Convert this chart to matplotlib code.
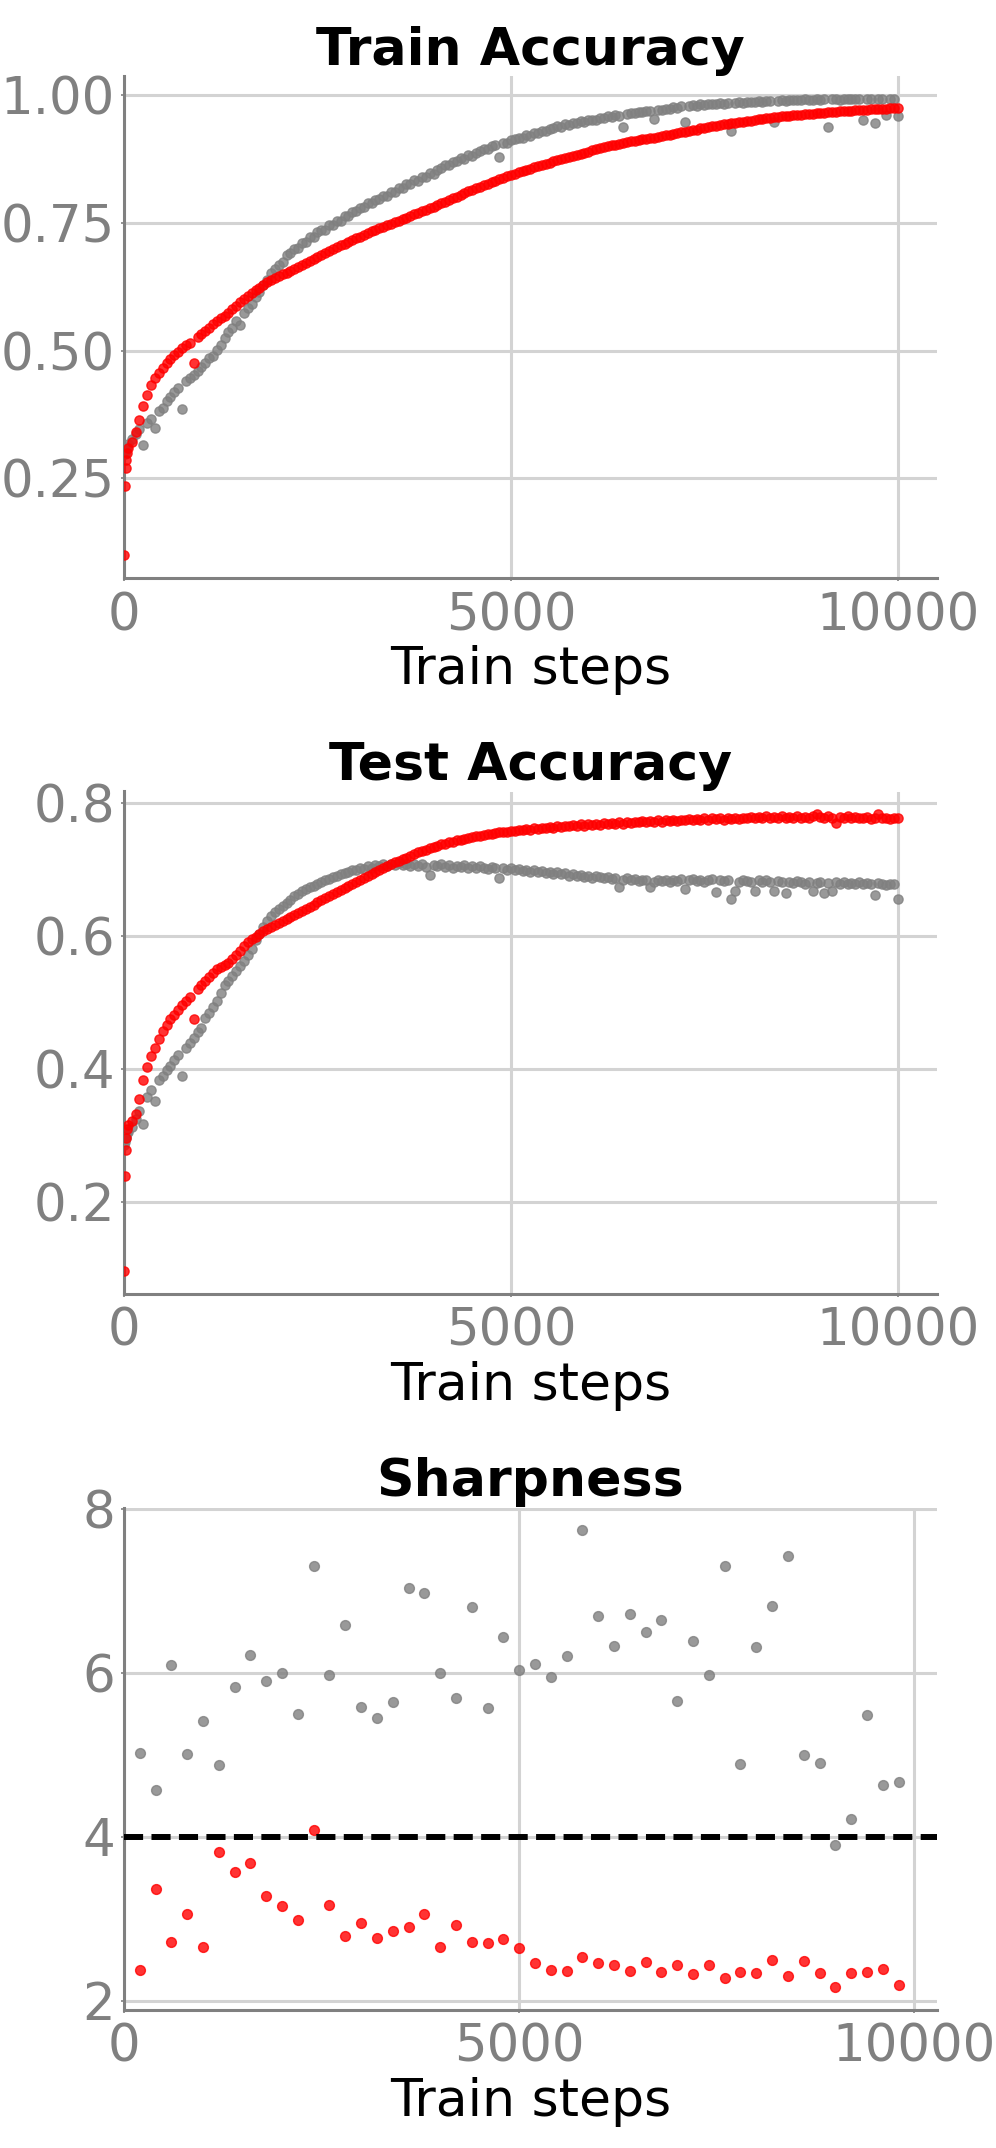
import numpy as np
import matplotlib
matplotlib.use("Agg")
import matplotlib.pyplot as plt

# ---------------- data ----------------
steps = [0, 10, 20, 30, 40] + list(range(50, 10001, 50))

train_acc_red = [
    0.100, 0.235, 0.270, 0.287, 0.300,
    0.310, 0.322, 0.340, 0.365, 0.392, 0.413, 0.432, 0.446, 0.457, 0.466,
    0.476, 0.484, 0.491, 0.498, 0.504, 0.510, 0.515, 0.476, 0.526, 0.532,
    0.538, 0.545, 0.551, 0.558, 0.563, 0.568, 0.574, 0.581, 0.588, 0.595,
    0.601, 0.607, 0.612, 0.618, 0.623, 0.628, 0.633, 0.637, 0.641, 0.645,
    0.649, 0.652, 0.656, 0.660, 0.664, 0.667, 0.671, 0.675, 0.679, 0.683,
    0.686, 0.690, 0.694, 0.698, 0.702, 0.706, 0.709, 0.713, 0.716, 0.719,
    0.722, 0.726, 0.729, 0.733, 0.736, 0.739, 0.742, 0.745, 0.748, 0.751,
    0.754, 0.757, 0.760, 0.763, 0.766, 0.769, 0.772, 0.775, 0.778, 0.781,
    0.784, 0.788, 0.791, 0.795, 0.798, 0.801, 0.804, 0.808, 0.811, 0.814,
    0.817, 0.820, 0.823, 0.826, 0.829, 0.832, 0.835, 0.838, 0.841, 0.844,
    0.846, 0.849, 0.851, 0.853, 0.855, 0.858, 0.860, 0.863, 0.865, 0.867,
    0.870, 0.872, 0.874, 0.876, 0.878, 0.880, 0.883, 0.885, 0.887, 0.889,
    0.891, 0.893, 0.895, 0.897, 0.899, 0.901, 0.902, 0.904, 0.906, 0.907,
    0.909, 0.910, 0.911, 0.913, 0.914, 0.915, 0.916, 0.917, 0.919, 0.921,
    0.922, 0.924, 0.925, 0.927, 0.928, 0.930, 0.931, 0.932, 0.934, 0.935,
    0.936, 0.938, 0.939, 0.940, 0.942, 0.943, 0.944, 0.945, 0.946, 0.947,
    0.948, 0.949, 0.951, 0.952, 0.953, 0.954, 0.955, 0.956, 0.957, 0.958,
    0.958, 0.959, 0.960, 0.961, 0.961, 0.962, 0.963, 0.963, 0.964, 0.965,
    0.965, 0.966, 0.967, 0.967, 0.968, 0.968, 0.969, 0.969, 0.970, 0.970,
    0.971, 0.971, 0.972, 0.972, 0.973, 0.973, 0.973, 0.974, 0.974, 0.974,
]

train_acc_gray = [
    0.300, 0.298, 0.305, 0.310, 0.312,
    0.318, 0.327, 0.337, 0.346, 0.316, 0.358, 0.366, 0.349, 0.381, 0.388,
    0.401, 0.410, 0.419, 0.427, 0.386, 0.440, 0.446, 0.453, 0.460, 0.468,
    0.476, 0.485, 0.490, 0.502, 0.510, 0.524, 0.536, 0.545, 0.557, 0.550,
    0.573, 0.583, 0.590, 0.604, 0.614, 0.628, 0.638, 0.652, 0.660, 0.668,
    0.674, 0.686, 0.690, 0.699, 0.701, 0.711, 0.712, 0.722, 0.722, 0.731,
    0.735, 0.736, 0.745, 0.746, 0.753, 0.754, 0.762, 0.763, 0.771, 0.772,
    0.779, 0.780, 0.788, 0.789, 0.795, 0.796, 0.803, 0.802, 0.810, 0.809,
    0.817, 0.818, 0.825, 0.826, 0.833, 0.832, 0.840, 0.839, 0.847, 0.846,
    0.853, 0.857, 0.862, 0.863, 0.869, 0.870, 0.876, 0.875, 0.882, 0.881,
    0.887, 0.890, 0.894, 0.893, 0.899, 0.901, 0.879, 0.906, 0.906, 0.911,
    0.913, 0.916, 0.915, 0.921, 0.920, 0.925, 0.925, 0.930, 0.929, 0.933,
    0.935, 0.938, 0.937, 0.942, 0.940, 0.945, 0.944, 0.948, 0.946, 0.951,
    0.951, 0.951, 0.955, 0.954, 0.958, 0.957, 0.961, 0.959, 0.936, 0.963,
    0.964, 0.964, 0.967, 0.966, 0.969, 0.968, 0.953, 0.971, 0.970, 0.973,
    0.973, 0.976, 0.975, 0.978, 0.946, 0.977, 0.980, 0.978, 0.981, 0.979,
    0.981, 0.982, 0.981, 0.983, 0.982, 0.984, 0.930, 0.983, 0.985, 0.984,
    0.985, 0.986, 0.985, 0.987, 0.986, 0.988, 0.987, 0.946, 0.988, 0.989,
    0.988, 0.990, 0.989, 0.990, 0.989, 0.991, 0.990, 0.990, 0.991, 0.990,
    0.991, 0.936, 0.991, 0.992, 0.990, 0.992, 0.991, 0.992, 0.991, 0.992,
    0.951, 0.992, 0.991, 0.944, 0.992, 0.991, 0.960, 0.992, 0.991, 0.959,
]

test_acc_red = [
    0.097, 0.239, 0.278, 0.296, 0.310,
    0.316, 0.322, 0.333, 0.355, 0.384, 0.403, 0.419, 0.432, 0.446, 0.457,
    0.467, 0.475, 0.482, 0.489, 0.496, 0.502, 0.508, 0.476, 0.520, 0.526,
    0.532, 0.538, 0.544, 0.550, 0.553, 0.556, 0.559, 0.565, 0.571, 0.578,
    0.585, 0.591, 0.595, 0.599, 0.603, 0.607, 0.611, 0.613, 0.616, 0.619,
    0.622, 0.625, 0.628, 0.631, 0.634, 0.637, 0.640, 0.644, 0.647, 0.651,
    0.654, 0.657, 0.660, 0.663, 0.666, 0.669, 0.672, 0.675, 0.678, 0.681,
    0.684, 0.687, 0.690, 0.693, 0.696, 0.699, 0.702, 0.705, 0.708, 0.711,
    0.713, 0.716, 0.718, 0.721, 0.723, 0.726, 0.728, 0.730, 0.732, 0.734,
    0.736, 0.738, 0.739, 0.741, 0.742, 0.744, 0.745, 0.746, 0.748, 0.749,
    0.750, 0.751, 0.752, 0.753, 0.754, 0.755, 0.756, 0.756, 0.757, 0.758,
    0.758, 0.760, 0.759, 0.761, 0.760, 0.762, 0.761, 0.763, 0.762, 0.764,
    0.763, 0.765, 0.764, 0.766, 0.765, 0.767, 0.765, 0.768, 0.766, 0.768,
    0.767, 0.769, 0.767, 0.770, 0.768, 0.770, 0.769, 0.771, 0.769, 0.772,
    0.770, 0.772, 0.771, 0.773, 0.771, 0.773, 0.772, 0.774, 0.772, 0.774,
    0.773, 0.775, 0.773, 0.775, 0.774, 0.776, 0.774, 0.776, 0.775, 0.777,
    0.775, 0.777, 0.776, 0.777, 0.775, 0.778, 0.776, 0.778, 0.776, 0.778,
    0.777, 0.779, 0.777, 0.779, 0.777, 0.780, 0.778, 0.779, 0.777, 0.780,
    0.778, 0.779, 0.777, 0.780, 0.778, 0.779, 0.778, 0.781, 0.783, 0.779,
    0.778, 0.780, 0.777, 0.770, 0.779, 0.778, 0.780, 0.777, 0.779, 0.778,
    0.777, 0.779, 0.776, 0.778, 0.783, 0.777, 0.778, 0.776, 0.778, 0.777,
]

test_acc_gray = [
    0.286, 0.290, 0.296, 0.300, 0.305,
    0.306, 0.313, 0.325, 0.337, 0.318, 0.358, 0.368, 0.352, 0.384, 0.389,
    0.399, 0.405, 0.413, 0.421, 0.390, 0.431, 0.439, 0.447, 0.456, 0.462,
    0.477, 0.484, 0.494, 0.503, 0.514, 0.526, 0.533, 0.540, 0.548, 0.555,
    0.563, 0.572, 0.581, 0.594, 0.603, 0.614, 0.622, 0.630, 0.636, 0.640,
    0.645, 0.650, 0.654, 0.660, 0.663, 0.668, 0.671, 0.674, 0.675, 0.679,
    0.681, 0.684, 0.686, 0.689, 0.691, 0.693, 0.695, 0.697, 0.699, 0.700,
    0.702, 0.701, 0.705, 0.703, 0.707, 0.705, 0.708, 0.706, 0.709, 0.707,
    0.710, 0.707, 0.709, 0.705, 0.708, 0.706, 0.709, 0.704, 0.692, 0.707,
    0.705, 0.708, 0.704, 0.707, 0.703, 0.706, 0.704, 0.707, 0.703, 0.705,
    0.702, 0.705, 0.703, 0.701, 0.704, 0.702, 0.687, 0.703, 0.700, 0.702,
    0.699, 0.701, 0.698, 0.700, 0.697, 0.699, 0.696, 0.698, 0.695, 0.697,
    0.694, 0.696, 0.693, 0.695, 0.691, 0.693, 0.690, 0.692, 0.689, 0.691,
    0.688, 0.690, 0.689, 0.687, 0.689, 0.686, 0.688, 0.673, 0.685, 0.687,
    0.684, 0.686, 0.683, 0.685, 0.684, 0.674, 0.681, 0.685, 0.683, 0.684,
    0.682, 0.685, 0.683, 0.686, 0.670, 0.684, 0.686, 0.683, 0.685, 0.682,
    0.684, 0.686, 0.666, 0.685, 0.683, 0.684, 0.656, 0.668, 0.682, 0.685,
    0.683, 0.681, 0.668, 0.684, 0.682, 0.684, 0.681, 0.667, 0.683, 0.681,
    0.665, 0.682, 0.680, 0.683, 0.681, 0.679, 0.682, 0.668, 0.680, 0.682,
    0.665, 0.680, 0.667, 0.681, 0.679, 0.681, 0.678, 0.680, 0.679, 0.681,
    0.678, 0.680, 0.679, 0.662, 0.680, 0.678, 0.677, 0.679, 0.678, 0.655,
]

sharp_steps = list(range(200, 9801, 200))
sharp_gray = [
    5.02, 4.57, 6.10, 5.01, 5.41, 4.87, 5.83, 6.22, 5.90, 6.00,
    5.50, 7.30, 5.97, 6.59, 5.58, 5.45, 5.64, 7.03, 6.98, 6.00,
    5.69, 6.81, 5.57, 6.44, 6.04, 6.11, 5.95, 6.21, 7.74, 6.70,
    6.33, 6.72, 6.50, 6.65, 5.66, 6.39, 5.98, 7.31, 4.89, 6.32,
    6.82, 7.43, 5.00, 4.90, 3.90, 4.22, 5.48, 4.63, 4.67,
]
sharp_red = [
    2.37, 3.36, 2.72, 3.06, 2.65, 3.81, 3.57, 3.68, 3.28, 3.15,
    2.98, 4.08, 3.17, 2.79, 2.95, 2.76, 2.85, 2.90, 3.06, 2.65,
    2.92, 2.71, 2.70, 2.75, 2.64, 2.46, 2.37, 2.36, 2.53, 2.46,
    2.44, 2.36, 2.47, 2.35, 2.43, 2.32, 2.44, 2.28, 2.35, 2.34,
    2.49, 2.30, 2.48, 2.34, 2.17, 2.34, 2.35, 2.38, 2.19,
]
sharp_threshold = 4.0

titles = ["Train Accuracy", "Test Accuracy", "Sharpness"]
xlabel = "Train steps"
xticks = [0, 5000, 10000]
yticks_list = [[0.25, 0.50, 0.75, 1.00], [0.2, 0.4, 0.6, 0.8], [2, 4, 6, 8]]
ytick_fmt = ["{:.2f}", "{:.1f}", "{:.0f}"]

# ---------------- style ----------------
GRAY = "#808080"
RED = "#ff0000"
GRID = "#d3d3d3"
TICK_FS = 37
LABEL_FS = 37.5

fig = plt.figure(figsize=(9.96, 21.48), dpi=100)
left, width, height = 124 / 996, 812.5 / 996, 502 / 2148
bottoms = [1 - 578 / 2148, 1 - 1293.5 / 2148, 1 - 2009.5 / 2148]
axes = [fig.add_axes([left, b, width, height]) for b in bottoms]

series = [
    (steps, train_acc_gray, train_acc_red, 44),
    (steps, test_acc_gray, test_acc_red, 44),
    (sharp_steps, sharp_gray, sharp_red, 50),
]

for i, ax in enumerate(axes):
    xs, g, r, s = series[i]
    ax.scatter(xs, g, s=s, color=GRAY, alpha=0.8, zorder=3)
    ax.scatter(xs, r, s=s, color=RED, alpha=0.8, zorder=4)
    if i == 2:
        ax.axhline(sharp_threshold, color="black", lw=4.3,
                   linestyle=(0, (3.2, 1.4)), zorder=5)
    ax.set_xlim(left=0)
    ax.set_xticks(xticks)
    ax.set_yticks(yticks_list[i])
    ax.set_yticklabels([ytick_fmt[i].format(v) for v in yticks_list[i]])
    ax.grid(True, color=GRID, lw=2.2, zorder=0)
    ax.set_axisbelow(True)
    for sp in ["top", "right"]:
        ax.spines[sp].set_visible(False)
    for sp in ["left", "bottom"]:
        ax.spines[sp].set_color(GRAY)
        ax.spines[sp].set_linewidth(2.2)
    ax.tick_params(axis="both", colors=GRAY, labelsize=TICK_FS, length=2.5, width=1.2)
    ax.tick_params(axis="x", pad=7)
    ax.tick_params(axis="y", pad=4)
    ax.set_title(titles[i], fontsize=LABEL_FS, fontweight="bold", color="black", pad=8)
    ax.set_xlabel(xlabel, fontsize=LABEL_FS, color="black", labelpad=3)

fig.savefig("out.png", dpi=100, facecolor="white")
